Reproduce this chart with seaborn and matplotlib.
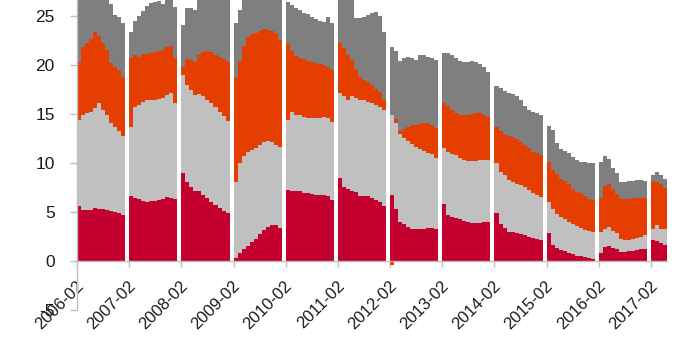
import numpy as np
import pandas as pd
import matplotlib
matplotlib.use("Agg")
import matplotlib.pyplot as plt
import matplotlib.transforms as mtransforms
import seaborn as sns

# ---------------- data (monthly, 2006-02 .. 2017-05) ----------------
start_month = "2006-02"
n_months = 136
tick_labels = ["2006-02", "2007-02", "2008-02", "2009-02", "2010-02", "2011-02",
               "2012-02", "2013-02", "2014-02", "2015-02", "2016-02", "2017-02"]
y_ticks = [-5, 0, 5, 10, 15, 20, 25]

red = [
    5.6, 5.2, 5.2, 5.2, 5.4, 5.3, 5.3, 5.2, 5.1, 5.0, 4.9, 4.7,
    6.6, 6.4, 6.3, 6.1, 6.0, 6.1, 6.1, 6.2, 6.3, 6.5, 6.4, 6.3,
    9.0, 8.0, 7.5, 7.1, 7.1, 6.7, 6.4, 6.0, 5.7, 5.4, 5.1, 4.9,
    0.3, 0.8, 1.2, 1.5, 1.9, 2.2, 2.7, 3.2, 3.5, 3.7, 3.7, 3.4,
    7.2, 7.1, 7.1, 7.1, 6.9, 6.9, 6.8, 6.7, 6.7, 6.7, 6.6, 6.2,
    8.5, 7.5, 7.3, 7.1, 7.0, 6.6, 6.6, 6.6, 6.4, 6.2, 6.0, 5.6,
    6.7, 5.3, 4.0, 3.8, 3.5, 3.3, 3.3, 3.3, 3.3, 3.4, 3.4, 3.3,
    5.8, 4.7, 4.5, 4.4, 4.3, 4.1, 4.0, 3.9, 3.9, 3.9, 4.0, 4.0,
    4.9, 3.8, 3.4, 3.0, 2.9, 2.8, 2.7, 2.6, 2.4, 2.3, 2.2, 2.1,
    2.8, 1.6, 1.3, 1.1, 1.0, 0.8, 0.7, 0.5, 0.5, 0.4, 0.3, 0.2,
    0.8, 1.4, 1.5, 1.3, 1.2, 0.9, 0.9, 1.0, 1.0, 1.1, 1.2, 1.2,
    2.1, 2.0, 1.8, 1.6,
]
light_gray = [
    8.8, 9.7, 9.9, 10.0, 10.2, 10.8, 10.1, 9.7, 9.0, 8.7, 8.3, 8.0,
    7.1, 9.3, 9.6, 10.1, 10.4, 10.3, 10.3, 10.3, 10.3, 10.4, 10.7, 9.8,
    10.0, 9.9, 9.9, 9.8, 9.9, 10.1, 10.0, 10.1, 10.0, 9.8, 9.7, 9.4,
    7.7, 9.2, 9.5, 9.6, 9.4, 9.3, 9.1, 8.9, 8.7, 8.4, 8.1, 8.2,
    7.2, 8.1, 7.8, 7.8, 7.8, 7.7, 7.8, 7.9, 7.9, 8.0, 8.0, 8.0,
    8.6, 9.3, 9.1, 9.7, 9.6, 9.8, 9.8, 9.6, 9.7, 9.7, 9.7, 9.8,
    8.2, 8.8, 8.9, 8.7, 8.7, 8.6, 8.3, 8.1, 7.9, 7.6, 7.5, 7.2,
    5.7, 6.4, 6.4, 6.4, 6.2, 6.2, 6.2, 6.3, 6.3, 6.4, 6.3, 6.3,
    5.1, 5.3, 5.4, 5.3, 5.1, 5.0, 5.0, 4.9, 4.8, 4.6, 4.5, 4.4,
    3.2, 3.7, 3.5, 3.4, 3.3, 3.2, 3.1, 3.1, 2.9, 2.8, 2.8, 2.7,
    2.1, 1.9, 2.0, 1.8, 1.6, 1.3, 1.2, 1.1, 1.2, 1.2, 1.2, 1.4,
    1.2, 1.7, 1.5, 1.7,
]
orange = [
    5.9, 6.9, 7.1, 7.4, 7.7, 6.8, 6.8, 6.6, 6.1, 6.1, 6.3, 6.1,
    7.0, 5.3, 4.9, 4.9, 4.7, 4.8, 4.9, 4.9, 4.9, 4.9, 4.8, 4.6,
    0.8, 2.7, 3.1, 3.4, 4.0, 4.5, 5.0, 5.2, 5.3, 5.6, 5.8, 6.0,
    10.8, 10.4, 11.2, 11.7, 11.8, 11.7, 11.6, 11.5, 11.3, 11.3, 11.4, 10.9,
    7.7, 6.2, 6.0, 5.8, 5.9, 5.8, 5.7, 5.6, 5.5, 5.3, 5.2, 5.3,
    5.1, 4.9, 4.6, 3.7, 3.0, 2.3, 2.0, 2.0, 1.8, 1.6, 1.5, 1.0,
    -0.4, 0.4, 0.3, 1.0, 1.5, 2.0, 2.3, 2.6, 2.9, 3.1, 3.0, 3.1,
    4.6, 4.7, 4.5, 4.3, 4.4, 4.6, 4.7, 4.8, 4.9, 4.8, 4.6, 4.4,
    3.7, 4.1, 4.0, 4.4, 4.6, 4.6, 4.4, 4.3, 4.3, 4.2, 4.3, 4.3,
    4.1, 4.0, 4.1, 3.9, 3.8, 3.8, 3.5, 3.4, 3.5, 3.4, 3.2, 3.3,
    3.5, 4.3, 4.3, 4.2, 4.0, 4.1, 4.2, 4.2, 4.2, 4.1, 4.0, 3.8,
    4.8, 4.3, 4.5, 4.1,
]
dark_gray = [
    7.2, 5.8, 5.6, 5.0, 4.1, 4.3, 4.8, 5.3, 6.0, 5.3, 5.4, 5.5,
    2.6, 3.5, 4.2, 4.4, 4.9, 5.1, 5.1, 5.1, 4.7, 5.1, 4.9, 5.2,
    4.3, 5.2, 5.3, 5.3, 6.2, 6.1, 6.1, 6.2, 6.4, 6.5, 6.6, 6.7,
    5.5, 5.2, 5.0, 4.8, 4.8, 4.9, 4.9, 4.8, 4.8, 4.8, 4.9, 5.0,
    4.3, 4.7, 4.9, 4.9, 4.7, 4.8, 4.6, 4.5, 4.4, 4.4, 5.1, 4.8,
    5.6, 5.9, 6.5, 6.7, 5.2, 6.1, 6.5, 6.9, 7.4, 7.9, 7.8, 6.9,
    6.9, 6.9, 7.2, 7.2, 7.1, 6.8, 6.6, 7.0, 6.9, 6.7, 6.8, 6.9,
    5.1, 5.4, 5.6, 5.6, 5.5, 5.4, 5.4, 5.4, 5.2, 5.0, 4.9, 4.6,
    4.1, 4.4, 4.5, 4.4, 4.4, 4.4, 4.3, 4.0, 3.9, 4.1, 4.1, 4.1,
    3.7, 4.0, 3.1, 3.0, 3.1, 3.2, 3.3, 3.3, 3.2, 3.5, 3.7, 3.8,
    3.7, 3.1, 2.6, 2.2, 2.2, 1.7, 1.7, 1.8, 1.8, 1.9, 1.9, 1.8,
    0.7, 1.1, 1.0, 1.0,
]

# ---------------- styling ----------------
colors = {"red": "#C4002F", "light_gray": "#C0C0C0",
          "orange": "#E43E00", "dark_gray": "#7F7F7F"}
axis_gray = "#BFBFBF"

sns.set_theme(style="white")
plt.rcParams["font.family"] = ["Liberation Sans", "DejaVu Sans"]

# layout: 12 monthly slots per year + one empty slot as a year separator
months = pd.period_range(start_month, periods=n_months, freq="M").strftime("%Y-%m")
idx = np.arange(n_months)
slot = (idx // 12) * 13 + (idx % 12)
edges = [float(e) for e in np.arange(-0.5, slot[-1] + 1.0, 1.0)]

og = np.array(orange)
series = {
    "red": np.array(red),
    "light_gray": np.array(light_gray),
    "orange": np.clip(og, 0, None),
    "dark_gray": np.array(dark_gray),
}
long = pd.concat(
    [pd.DataFrame({"month": months, "slot": slot, "series": k, "value": v})
     for k, v in series.items()],
    ignore_index=True,
)
neg = pd.DataFrame({"slot": slot, "value": og})
neg = neg[neg["value"] < 0]

fig = plt.figure(figsize=(7, 3.5), dpi=100)
ax = fig.add_axes([0.11, 0.1143, 0.843, 0.8857])

sns.histplot(data=long, x="slot", weights="value", hue="series",
             hue_order=["dark_gray", "orange", "light_gray", "red"],
             palette=colors, bins=edges, multiple="stack", element="step",
             fill=True, alpha=1, linewidth=0, legend=False, ax=ax)

# negative part drawn below the baseline
sns.barplot(data=neg, x="slot", y="value", native_scale=True, orient="x",
            width=1.0, color=colors["orange"], saturation=1, errorbar=None,
            linewidth=0, ax=ax)

# spines first (moving a spine resets the ticks)
for s in ["top", "right"]:
    ax.spines[s].set_visible(False)
ax.spines["bottom"].set_position(("data", 0))
for s in ["bottom", "left"]:
    ax.spines[s].set_color(axis_gray)
    ax.spines[s].set_linewidth(1.0)

ax.set_xlim(-0.5, slot[-1] + 0.5)
ax.set_ylim(-5, 26.6)
ax.set_yticks(y_ticks)
ax.set_yticklabels([str(v) for v in y_ticks], fontsize=12.5, color="#1a1a1a")

tick_pos = [k * 13 - 0.5 for k in range(len(tick_labels))]
ax.set_xticks(tick_pos)
ax.set_xticklabels(tick_labels, rotation=45, ha="right", va="center",
                   rotation_mode="anchor", fontsize=12, color="#1a1a1a")

ax.set_xlabel("")
ax.set_ylabel("")
ax.tick_params(axis="x", length=4, color=axis_gray, width=1, pad=12, bottom=True)
ax.tick_params(axis="y", length=5, color=axis_gray, width=1, pad=11, left=True)

shift = mtransforms.ScaledTranslation(4 / 100, 0, fig.dpi_scale_trans)
for lab in ax.get_xticklabels():
    lab.set_transform(lab.get_transform() + shift)

fig.savefig("out.png", dpi=100)
